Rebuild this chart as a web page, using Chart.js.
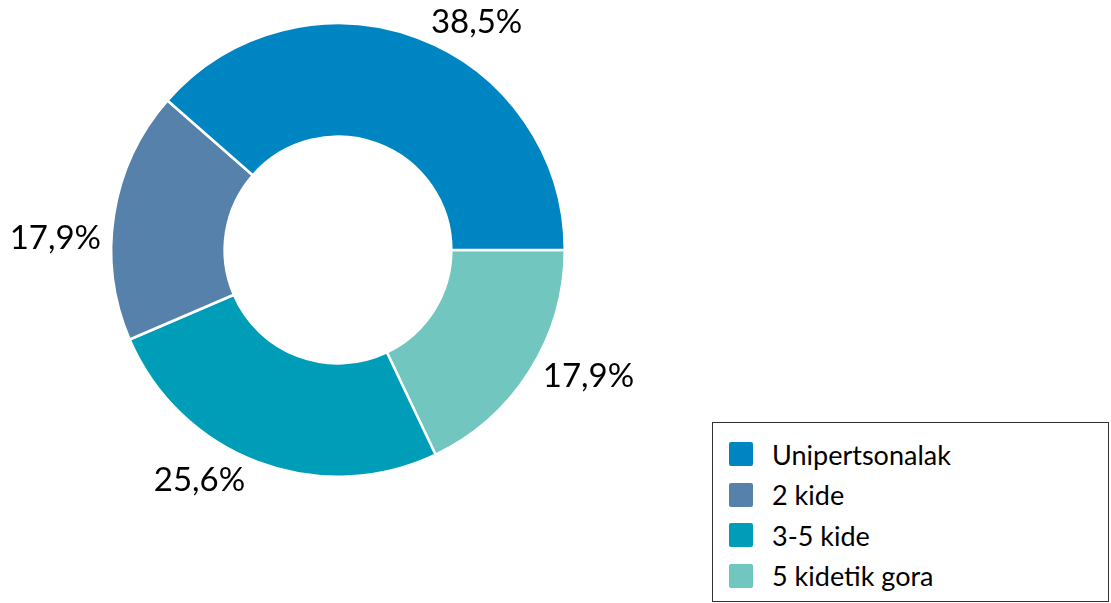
<!DOCTYPE html>
<html>
<head>
<meta charset="utf-8">
<script src="https://cdn.jsdelivr.net/npm/chart.js@4/dist/chart.umd.min.js"></script>
<style>
  html, body { margin: 0; padding: 0; background: #fff; }
  #wrap { position: relative; width: 1111px; height: 603px; }
  #legend {
    position: absolute; left: 712px; top: 422px; width: 397px; height: 180px;
    border: 1px solid #333; box-sizing: border-box; background: #fff;
    font-family: Lato, "Open Sans", sans-serif; font-size: 27px; color: #000;
    padding-top: 11px;
  }
  .item { display: flex; align-items: center; height: 40.5px; padding-left: 16px; }
  .sw { width: 24px; height: 24px; border-radius: 2px; margin-right: 19px; flex: none; }
</style>
</head>
<body>
<div id="wrap">
  <canvas id="c"></canvas>
  <div id="legend"></div>
</div>
<script>
// Data (legend order)
const categories = ["Unipertsonalak", "2 kide", "3-5 kide", "5 kidetik gora"];
const values = [38.5, 17.9, 25.6, 17.9];
const labelsText = ["38,5%", "17,9%", "25,6%", "17,9%"];
const colors = ["#0085C3", "#5681AB", "#009DB9", "#72C6C0"];

// The reference runs counter-clockwise from 3 o'clock; Chart.js runs clockwise,
// so the dataset is fed in reverse order starting at 3 o'clock.
const rev = a => a.slice().reverse();

const labelPlugin = {
  id: 'outLabels',
  afterDatasetsDraw(chart, args, opts) {
    const ctx = chart.ctx;
    const meta = chart.getDatasetMeta(0);
    const texts = rev(labelsText);
    const extraY = rev(opts.extraY || [0, 0, 0, 0]);
    ctx.save();
    ctx.font = '33px Lato, "Open Sans", sans-serif';
    ctx.fillStyle = '#000';
    ctx.textAlign = 'center';
    ctx.textBaseline = 'alphabetic';
    meta.data.forEach((arc, i) => {
      const p = arc.getProps(['x', 'y', 'startAngle', 'endAngle', 'outerRadius'], true);
      const mid = (p.startAngle + p.endAngle) / 2;
      const c = Math.cos(mid), s = Math.sin(mid);
      const ox = p.x + p.outerRadius * c, oy = p.y + p.outerRadius * s;
      const m = ctx.measureText(texts[i]);
      const w = m.width;
      const asc = m.actualBoundingBoxAscent;
      const cx = ox + Math.sign(c) * (w / 2 + 13);
      const cy = oy + 18 * s + extraY[i];
      ctx.fillText(texts[i], cx, cy + asc / 2);
    });
    ctx.restore();
  }
};

new Chart(document.getElementById('c'), {
  type: 'doughnut',
  data: {
    labels: rev(categories),
    datasets: [{
      data: rev(values),
      backgroundColor: rev(colors),
      borderColor: '#ffffff',
      borderWidth: 2.5,
      hoverOffset: 0
    }]
  },
  options: {
    responsive: true,
    maintainAspectRatio: false,
    animation: false,
    cutout: '50%',
    rotation: 90,
    layout: { padding: { left: 110, right: 545, top: 22, bottom: 125 } },
    plugins: {
      legend: { display: false },
      tooltip: { enabled: false },
      outLabels: { extraY: [0, 25, 0, -6] }
    }
  },
  plugins: [labelPlugin]
});

const lg = document.getElementById('legend');
categories.forEach((name, i) => {
  const d = document.createElement('div');
  d.className = 'item';
  d.innerHTML = '<span class="sw" style="background:' + colors[i] + '"></span><span>' + name + '</span>';
  lg.appendChild(d);
});
</script>
</body>
</html>
